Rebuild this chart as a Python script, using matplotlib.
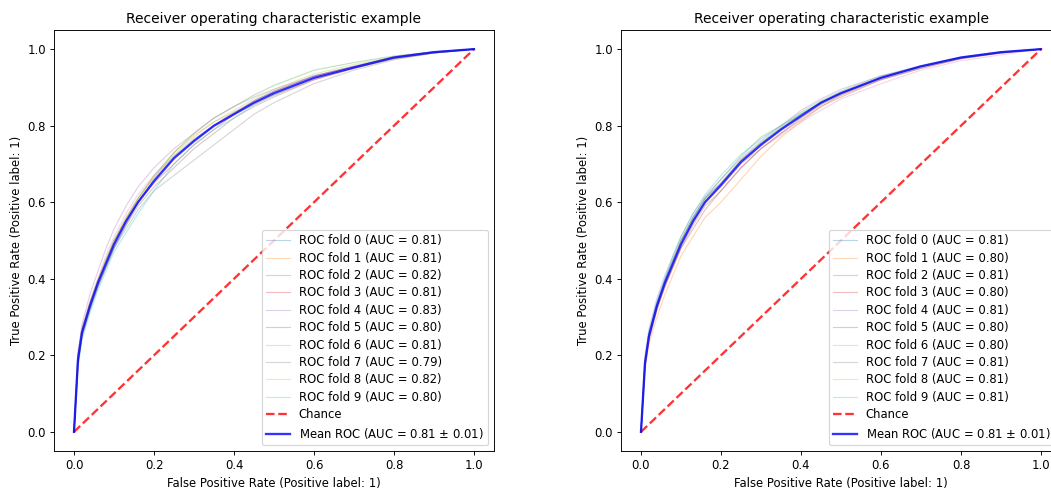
import matplotlib
matplotlib.use('Agg')
import matplotlib.pyplot as plt

fpr_grid = [0, 0.01, 0.02, 0.04, 0.06, 0.08, 0.1, 0.13, 0.16, 0.2, 0.25,
            0.3, 0.35, 0.4, 0.45, 0.5, 0.6, 0.7, 0.8, 0.9, 1.0]

# left panel
folds_left = [
    [0, .18, .25, .32, .38, .43, .48, .54, .60, .66, .72, .765, .80, .835, .865, .89, .93, .955, .98, .993, 1],
    [0, .20, .27, .34, .40, .45, .50, .56, .61, .665, .73, .775, .81, .835, .86, .88, .92, .95, .975, .99, 1],
    [0, .19, .26, .33, .39, .45, .50, .555, .61, .67, .73, .78, .82, .85, .88, .905, .945, .965, .982, .993, 1],
    [0, .18, .26, .33, .39, .44, .49, .55, .60, .65, .70, .75, .79, .83, .865, .89, .93, .955, .978, .992, 1],
    [0, .21, .28, .36, .42, .48, .53, .59, .64, .69, .74, .78, .82, .85, .875, .895, .93, .955, .98, .993, 1],
    [0, .17, .25, .32, .38, .43, .48, .54, .59, .64, .69, .74, .78, .82, .85, .875, .92, .95, .975, .99, 1],
    [0, .20, .27, .34, .40, .46, .51, .57, .62, .67, .72, .76, .80, .83, .855, .88, .92, .95, .977, .99, 1],
    [0, .18, .25, .32, .38, .43, .48, .53, .58, .63, .67, .71, .75, .79, .83, .86, .91, .945, .972, .99, 1],
    [0, .20, .27, .34, .40, .45, .50, .56, .61, .665, .725, .77, .81, .84, .87, .895, .935, .96, .98, .993, 1],
    [0, .17, .24, .31, .37, .42, .47, .52, .57, .63, .70, .75, .79, .82, .855, .88, .925, .952, .978, .991, 1],
]
auc_left = [0.81, 0.81, 0.82, 0.81, 0.83, 0.80, 0.81, 0.79, 0.82, 0.80]
mean_left = [0, .19, .26, .33, .39, .44, .49, .55, .60, .655, .715, .76, .80, .83, .86, .885, .925, .952, .978, .992, 1]

# right panel
folds_right = [
    [0, .18, .26, .34, .40, .45, .50, .56, .61, .65, .71, .755, .795, .83, .86, .885, .925, .955, .978, .992, 1],
    [0, .16, .23, .30, .36, .41, .46, .51, .56, .60, .66, .72, .77, .81, .85, .88, .925, .955, .978, .99, 1],
    [0, .18, .25, .33, .40, .45, .50, .56, .61, .66, .72, .77, .80, .835, .865, .89, .93, .955, .978, .992, 1],
    [0, .17, .24, .32, .38, .43, .48, .53, .58, .63, .69, .74, .78, .82, .855, .88, .92, .95, .975, .99, 1],
    [0, .20, .27, .35, .41, .46, .51, .57, .615, .66, .715, .76, .80, .84, .87, .895, .93, .957, .98, .993, 1],
    [0, .17, .25, .32, .38, .43, .48, .54, .59, .63, .69, .74, .78, .815, .85, .875, .92, .95, .975, .99, 1],
    [0, .18, .25, .33, .39, .44, .49, .55, .60, .64, .70, .74, .775, .81, .84, .87, .91, .945, .97, .985, 1],
    [0, .18, .26, .33, .39, .44, .50, .56, .61, .65, .71, .755, .79, .83, .86, .885, .925, .955, .978, .992, 1],
    [0, .18, .25, .33, .39, .45, .50, .555, .605, .65, .71, .755, .795, .83, .86, .886, .926, .955, .978, .992, 1],
    [0, .19, .26, .34, .40, .46, .51, .57, .62, .67, .725, .765, .80, .83, .86, .885, .925, .955, .978, .992, 1],
]
auc_right = [0.81, 0.80, 0.81, 0.80, 0.81, 0.80, 0.80, 0.81, 0.81, 0.81]
mean_right = [0, .18, .25, .33, .39, .44, .49, .55, .60, .645, .705, .75, .79, .825, .86, .885, .925, .955, .978, .992, 1]

mean_auc = [0.81, 0.81]
std_auc = [0.01, 0.01]

dpi = 83.3
fig = plt.figure(figsize=(1051/dpi, 493/dpi), dpi=dpi)
ax1 = fig.add_axes([54/1051, 42/493, 440/1051, 421/493])
ax2 = fig.add_axes([621/1051, 42/493, 440/1051, 421/493])

panels = [(ax1, folds_left, auc_left, mean_left, 0), (ax2, folds_right, auc_right, mean_right, 1)]
for ax, folds, aucs, mean_tpr, k in panels:
    for i, tpr in enumerate(folds):
        ax.plot(fpr_grid, tpr, lw=1, alpha=0.3, label=f'ROC fold {i} (AUC = {aucs[i]:.2f})')
    ax.plot([0, 1], [0, 1], linestyle='--', lw=2, color='r', label='Chance', alpha=0.8)
    ax.plot(fpr_grid, mean_tpr, color='b', lw=2, alpha=0.8,
            label=r'Mean ROC (AUC = %0.2f $\pm$ %0.2f)' % (mean_auc[k], std_auc[k]))
    ax.set_xlim(-0.05, 1.05)
    ax.set_ylim(-0.05, 1.05)
    ax.set_title('Receiver operating characteristic example')
    ax.set_xlabel('False Positive Rate (Positive label: 1)')
    ax.set_ylabel('True Positive Rate (Positive label: 1)')
    ax.legend(loc='lower right', labelspacing=0.38)

fig.savefig('out.png', dpi=dpi)
